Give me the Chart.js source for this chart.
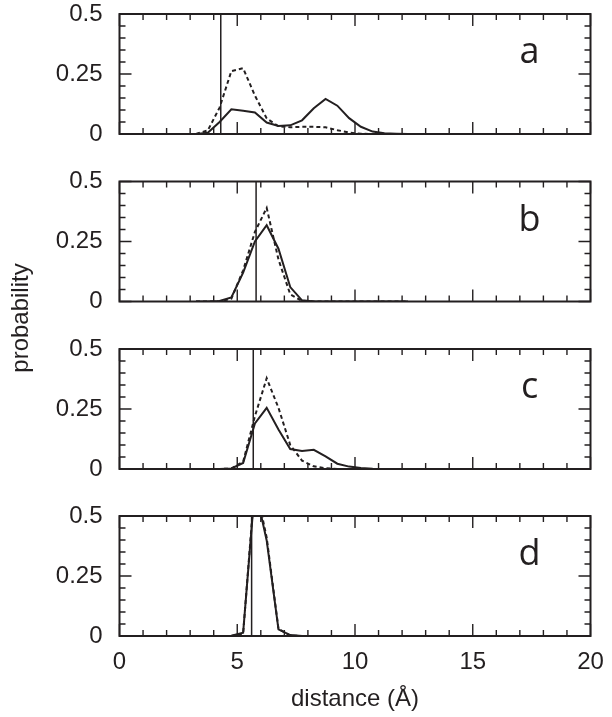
<!DOCTYPE html>
<html lang="en">
<head>
<meta charset="UTF-8">
<title>Distance probability</title>
<script src="https://cdn.jsdelivr.net/npm/chart.js"></script>
<style>
    body { margin: 0; background: #fff; }
    #wrap { position: relative; width: 612px; height: 717px; }
    #wrap canvas { position: absolute; left: 0; top: 0; }
</style>
</head>
<body>
<div id="wrap">
    <canvas id="panel0" width="612" height="717"></canvas>
    <canvas id="panel1" width="612" height="717"></canvas>
    <canvas id="panel2" width="612" height="717"></canvas>
    <canvas id="panel3" width="612" height="717"></canvas>
</div>

<script>
    // bin centres (Å) shared by all panels
    const distances = [3.25, 3.75, 4.25, 4.75, 5.25, 5.75, 6.25, 6.75, 7.25, 7.75,
                       8.25, 8.75, 9.25, 9.75, 10.25, 10.75, 11.25, 11.75, 12.25];

    const solidA  = [0, 0.005, 0.05, 0.103, 0.097, 0.09, 0.048, 0.033, 0.036, 0.057,
                     0.107, 0.146, 0.118, 0.066, 0.03, 0.01, 0.003, 0.001, 0];
    const dashedA = [0, 0.015, 0.11, 0.262, 0.274, 0.16, 0.065, 0.032, 0.028, 0.03,
                     0.03, 0.028, 0.016, 0.006, 0.001, 0, 0, 0, 0];

    const solidB  = [0, 0, 0.002, 0.017, 0.12, 0.25, 0.318, 0.22, 0.06, 0.005,
                     0, 0, 0, 0, 0, 0, 0, 0, 0];
    const dashedB = [0, 0, 0, 0.012, 0.13, 0.29, 0.39, 0.175, 0.03, 0.002,
                     0, 0, 0, 0, 0, 0, 0, 0, 0];

    const solidC  = [0, 0, 0, 0.002, 0.025, 0.19, 0.255, 0.165, 0.083, 0.075,
                     0.08, 0.053, 0.022, 0.01, 0.004, 0.001, 0, 0, 0];
    const dashedC = [0, 0, 0, 0.002, 0.03, 0.22, 0.378, 0.255, 0.1, 0.035,
                     0.011, 0.003, 0, 0, 0, 0, 0, 0, 0];

    const solidD  = [0, 0, 0, 0.001, 0.014, 0.62, 0.398, 0.028, 0.004, 0,
                     0, 0, 0, 0, 0, 0, 0, 0, 0];
    const dashedD = [0, 0, 0, 0, 0.01, 0.64, 0.41, 0.03, 0.002, 0,
                     0, 0, 0, 0, 0, 0, 0, 0, 0];

    // vertical reference line of each panel
    const markerX = [4.3, 5.8, 5.68, 5.61];
    const panelNames = ['a', 'b', 'c', 'd'];

    const xTicks = [0, 5, 10, 15, 20];
    const yTicks = [0, 0.25, 0.5];

    // layout
    const INK = '#231f20';
    const FONT = 'Liberation Sans, Arial, Helvetica, sans-serif';
    const W = 612, H = 717;
    const PLOT_LEFT = 119.5, PLOT_RIGHT = 590.5, PANEL_H = 120;
    const panelTop = [14, 181.5, 349, 516];

    // box + inward ticks on all four sides
    const frameTicks = {
        id: 'frameTicks',
        afterDatasetsDraw(chart) {
            const {ctx, chartArea: a, scales: {x, y}} = chart;
            ctx.save();
            ctx.strokeStyle = INK;
            ctx.lineWidth = 1.4;
            ctx.beginPath();
            for (let v = 0; v <= 20; v++) {
                const px = x.getPixelForValue(v);
                const len = v % 5 === 0 ? 12 : 6;
                ctx.moveTo(px, a.bottom); ctx.lineTo(px, a.bottom - len);
                ctx.moveTo(px, a.top); ctx.lineTo(px, a.top + len);
            }
            for (let k = 0; k <= 10; k++) {
                const py = y.getPixelForValue(k * 0.05);
                const len = k % 5 === 0 ? 12 : 6;
                ctx.moveTo(a.left, py); ctx.lineTo(a.left + len, py);
                ctx.moveTo(a.right, py); ctx.lineTo(a.right - len, py);
            }
            ctx.stroke();
            ctx.lineWidth = 2;
            ctx.strokeRect(a.left, a.top, a.right - a.left, a.bottom - a.top);
            ctx.restore();
        }
    };

    const panelLetter = {
        id: 'panelLetter',
        afterDraw(chart, args, opts) {
            const {ctx, chartArea: a} = chart;
            ctx.save();
            ctx.fillStyle = INK;
            ctx.font = '36px "Open Sans", sans-serif';
            ctx.textAlign = 'center';
            ctx.textBaseline = 'alphabetic';
            ctx.fillText(opts.text, a.right - 61, a.top + 49);
            if (opts.yTitle) {
                ctx.translate(28, 318);
                ctx.rotate(-Math.PI / 2);
                ctx.font = '24px ' + FONT;
                ctx.fillText(opts.yTitle, 0, 0);
            }
            ctx.restore();
        }
    };

    function points(values) {
        return distances.map((d, k) => ({x: d, y: values[k]}));
    }

    function makePanel(i, solid, dashed) {
        const last = i === 3;
        const top = panelTop[i];
        const bottom = top + PANEL_H;
        const ctx = document.getElementById('panel' + i).getContext('2d');

        return new Chart(ctx, {
            type: 'line',
            data: {
                datasets: [
                    {data: points(solid), borderWidth: 2},
                    {data: points(dashed), borderWidth: 2, borderDash: [4, 3]},
                    {data: [{x: markerX[i], y: 0}, {x: markerX[i], y: 0.5}], borderWidth: 1.5}
                ]
            },
            options: {
                responsive: false,
                animation: false,
                events: [],
                layout: {
                    padding: {left: 0, right: W - PLOT_RIGHT, top: top, bottom: last ? 0 : H - bottom}
                },
                elements: {
                    point: {radius: 0},
                    line: {tension: 0, borderColor: INK, fill: false}
                },
                plugins: {
                    legend: {display: false},
                    tooltip: {enabled: false},
                    panelLetter: {text: panelNames[i], yTitle: last ? 'probability' : null}
                },
                scales: {
                    x: {
                        type: 'linear',
                        min: 0,
                        max: 20,
                        display: last,
                        grid: {display: false, drawTicks: false},
                        border: {display: false},
                        afterBuildTicks: s => { s.ticks = xTicks.map(v => ({value: v})); },
                        afterFit: s => {
                            if (!last) return;
                            s.height = H - bottom;
                            s.paddingLeft = 0;
                            s.paddingRight = 0;
                        },
                        ticks: {
                            color: INK,
                            font: {family: FONT, size: 24},
                            padding: 12,
                            maxRotation: 0,
                            autoSkip: false,
                            callback: v => String(v)
                        },
                        title: {
                            display: true,
                            text: 'distance (Å)',
                            color: INK,
                            font: {family: FONT, size: 24},
                            padding: {top: 0, bottom: 3}
                        }
                    },
                    y: {
                        min: 0,
                        max: 0.5,
                        grid: {display: false, drawTicks: false},
                        border: {display: false},
                        afterBuildTicks: s => { s.ticks = yTicks.map(v => ({value: v})); },
                        afterFit: s => {
                            s.width = PLOT_LEFT;
                            s.paddingTop = 0;
                            s.paddingBottom = 0;
                        },
                        ticks: {
                            color: INK,
                            font: {family: FONT, size: 24},
                            padding: 17,
                            autoSkip: false,
                            callback: v => String(v)
                        }
                    }
                }
            },
            plugins: [frameTicks, panelLetter]
        });
    }

    window.onload = () => {
        makePanel(0, solidA, dashedA);
        makePanel(1, solidB, dashedB);
        makePanel(2, solidC, dashedC);
        makePanel(3, solidD, dashedD);
    };
</script>
</body>
</html>
